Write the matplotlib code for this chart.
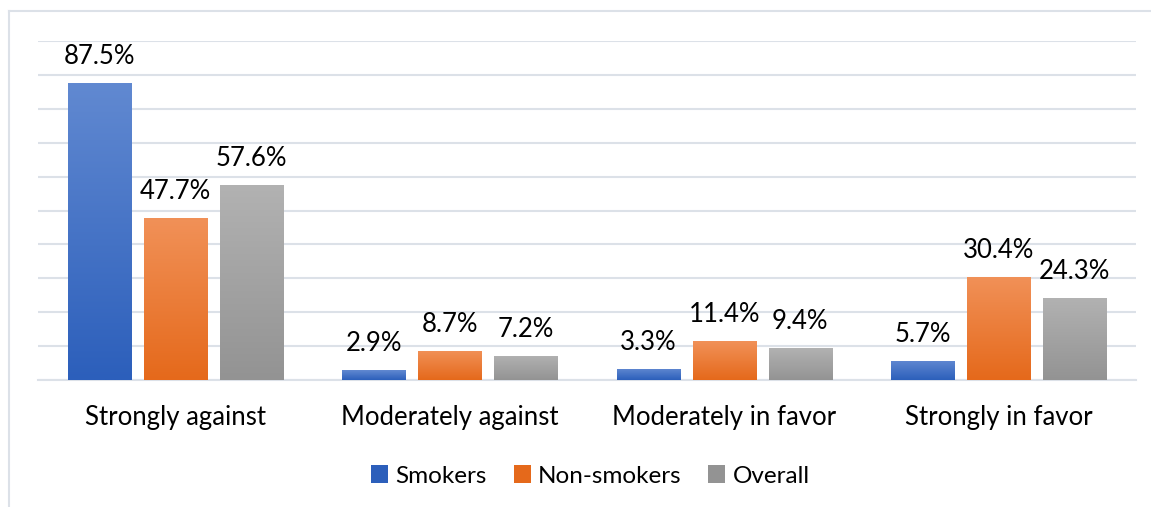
"""Grouped bar chart: opinion by smoking status, with gradient-filled bars."""
import matplotlib
matplotlib.use("Agg")
import matplotlib.pyplot as plt
import numpy as np
from matplotlib.colors import LinearSegmentedColormap
from matplotlib.lines import Line2D
from matplotlib.patches import Patch

categories = ["Strongly against", "Moderately against",
              "Moderately in favor", "Strongly in favor"]
series_names = ["Smokers", "Non-smokers", "Overall"]
smokers = [87.5, 2.9, 3.3, 5.7]
non_smokers = [47.7, 8.7, 11.4, 30.4]
overall = [57.6, 7.2, 9.4, 24.3]

# (top, bottom) gradient stops for each series
GRADIENTS = [("#6189d1", "#2c5fbb"),
             ("#f19158", "#e5691b"),
             ("#b2b2b2", "#939393")]
GRID = "#dce1e8"
TEXT = "#000000"
FONT = "Lato"
FS = 18.5

plt.rcParams["font.family"] = [FONT, "DejaVu Sans"]

W, H = 1151, 507
fig = plt.figure(figsize=(W / 100, H / 100), dpi=100, facecolor="white")
ax = fig.add_axes([38 / W, (H - 380) / H, 1098 / W, 339 / H])

bar_w = 0.23
step = 0.277
x = np.arange(len(categories))

for i, (vals, (c_top, c_bot)) in enumerate(zip([smokers, non_smokers, overall], GRADIENTS)):
    cmap = LinearSegmentedColormap.from_list(f"g{i}", [c_bot, c_top])
    bars = ax.bar(x + (i - 1) * step, vals, width=bar_w, color="none",
                  edgecolor="none", zorder=3)
    for bar, v in zip(bars, vals):
        x0, y0 = bar.get_x(), bar.get_y()
        grad = np.linspace(0, 1, 256).reshape(-1, 1)
        img = ax.imshow(grad, cmap=cmap, origin="lower", aspect="auto",
                        extent=[x0, x0 + bar.get_width(), y0, y0 + bar.get_height()],
                        zorder=3)
        img.set_clip_path(bar)
        ax.annotate(f"{v}%", (bar.get_x() + bar.get_width() / 2, v),
                    xytext=(0, 10), textcoords="offset points",
                    ha="center", va="bottom", fontsize=FS, color=TEXT)

ax.set_xlim(-0.5, len(categories) - 0.5)
ax.set_ylim(0, 100)
ax.set_yticks(np.arange(0, 101, 10))
ax.yaxis.grid(True, color=GRID, linewidth=1.5, zorder=0)
ax.tick_params(axis="y", left=False, labelleft=False)
ax.set_xticks(x)
ax.set_xticklabels(categories, fontsize=FS, color=TEXT)
ax.tick_params(axis="x", length=0, pad=18)
for side in ["top", "right", "left"]:
    ax.spines[side].set_visible(False)
ax.spines["bottom"].set_color(GRID)
ax.spines["bottom"].set_linewidth(1.5)

handles = [Patch(facecolor=c_bot, edgecolor="none") for _, c_bot in GRADIENTS]
fig.legend(handles, series_names, loc="center", bbox_to_anchor=(0.513, 31 / H),
           ncol=3, frameon=False, fontsize=17.5, handlelength=0.7,
           handleheight=0.7, handletextpad=0.3, columnspacing=1.1)

# outer chart-area border (left and top edges)
fig.add_artist(Line2D([9 / W, 9 / W], [0, (H - 11) / H], color=GRID, lw=1.5))
fig.add_artist(Line2D([9 / W, 1], [(H - 11) / H, (H - 11) / H], color=GRID, lw=1.5))

fig.savefig("out.png", dpi=100, facecolor="white")
